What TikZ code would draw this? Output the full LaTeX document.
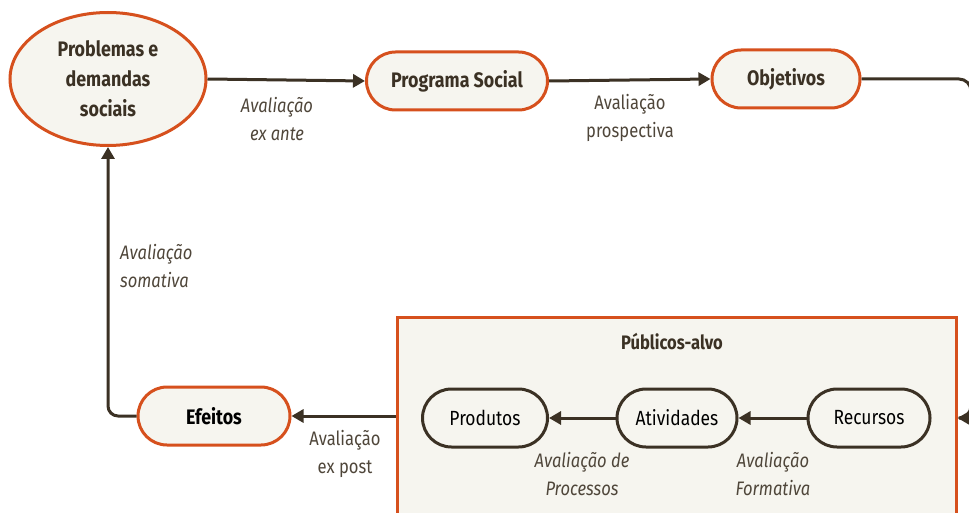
\documentclass[tikz,border=0pt]{standalone}
\usepackage{fontspec}
\setmainfont{Fira Sans}[FakeStretch=0.85]
\usetikzlibrary{shapes.geometric,shapes.misc,arrows.meta}
\definecolor{laranja}{HTML}{D6501D}
\definecolor{creme}{HTML}{F6F5EF}
\definecolor{marrom}{HTML}{3B3124}
\begin{document}
\begin{tikzpicture}[x=1pt,y=-1pt]
\tikzstyle{every node}+=[inner sep=0pt]
\tikzstyle{fase}=[rounded rectangle, draw=laranja, fill=creme, line width=3pt, text=marrom, font=\bfseries\fontsize{21}{24}\selectfont, minimum height=58pt]
\tikzstyle{etapa}=[rounded rectangle, draw=marrom, fill=creme, line width=3pt, text=black, font=\fontsize{20.5}{24}\selectfont, minimum height=58pt, minimum width=122pt]
\tikzstyle{seta}=[draw=marrom, line width=3pt, -{Triangle[length=12pt,width=13pt]}]
\tikzstyle{rotulo}=[text=marrom!90, font=\fontsize{19.5}{28}\selectfont, align=center]
\useasboundingbox (0,0) rectangle (969,513);
% fases do programa
\node [ellipse, draw=laranja, fill=creme, line width=3pt, text=marrom, align=center, font=\bfseries\fontsize{21}{30}\selectfont, minimum width=196pt, minimum height=133pt] (problemas) at (108,79) {Problemas e\\demandas\\sociais};
\node [fase, minimum width=181pt] (programa) at (457,81) {Programa Social};
\node [fase, minimum width=148pt] (objetivos) at (786,79) {Objetivos};
\node [fase, minimum width=152pt, text=black] (efeitos) at (214,416) {Efeitos};
% caixa dos publicos
\node [rectangle, draw=laranja, fill=creme, line width=3pt, minimum width=559pt, minimum height=220pt] (publicos) at (676.5,427) {};
\node [text=marrom, font=\bfseries\fontsize{19.5}{22}\selectfont] (titulo) at (672,342) {Públicos-alvo};
\node [etapa, minimum width=125pt] (produtos) at (485,418) {Produtos};
\node [etapa, minimum width=120pt] (atividades) at (677,418) {Atividades};
\node [etapa] (recursos) at (869,418) {Recursos};
% conectores
\draw [seta] (problemas.east) -- (programa.west);
\draw [seta] (programa.east) -- (objetivos.west);
\draw [seta, rounded corners=12pt] (objetivos.east) -- (971,79) -- (971,418) -- (publicos.east |- recursos);
\draw [seta] (recursos.west) -- (atividades.east);
\draw [seta] (atividades.west) -- (produtos.east);
\draw [seta] (publicos.west |- efeitos) -- (efeitos.east);
\draw [seta, rounded corners=10pt] (efeitos.west) -| (problemas.south);
% rotulos
\node [rotulo, font=\itshape\fontsize{19.5}{28}\selectfont] (exante) at (277,119) {Avaliação\\ex ante};
\node [rotulo] (prospectiva) at (630,118) {Avaliação\\prospectiva};
\node [rotulo, font=\itshape\fontsize{19.5}{28}\selectfont, align=left, anchor=west] (somativa) at (120,266) {Avaliação\\somativa};
\node [rotulo] (expost) at (345,454) {Avaliação\\ex post};
\node [rotulo, font=\itshape\fontsize{19.5}{28}\selectfont] (processos) at (582,474) {Avaliação de\\Processos};
\node [rotulo, font=\itshape\fontsize{19.5}{28}\selectfont] (formativa) at (773,474) {Avaliação\\Formativa};
\end{tikzpicture}
\end{document}
